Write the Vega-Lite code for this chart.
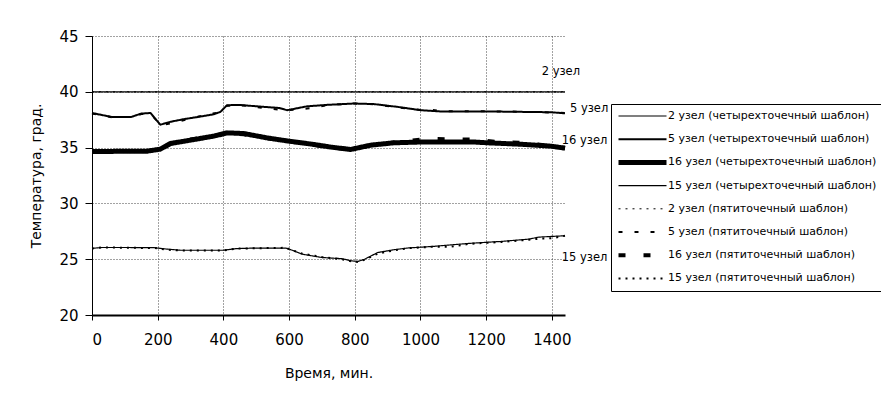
{
  "$schema": "https://vega.github.io/schema/vega-lite/v6.json",
  "width": 473,
  "height": 279,
  "autosize": {"type": "none"},
  "padding": {"left": 92, "top": 36, "right": 316, "bottom": 83},
  "background": "white",
  "config": {
    "font": "DejaVu Sans",
    "view": {"stroke": null},
    "axis": {
      "domainColor": "black",
      "tickColor": "black",
      "labelColor": "black",
      "titleColor": "black",
      "labelFontSize": 15,
      "titleFontSize": 14,
      "titleFontWeight": "normal",
      "gridColor": "#444444",
      "gridDash": [1, 2],
      "gridWidth": 1,
      "gridOpacity": 1
    },
    "legend": {
      "orient": "none",
      "legendX": 519,
      "legendY": 68,
      "strokeColor": "black",
      "fillColor": "white",
      "padding": 5,
      "symbolType": "stroke",
      "symbolSize": 2304,
      "symbolStrokeColor": "black",
      "clipHeight": 14,
      "rowPadding": 9.2,
      "labelFontSize": 11,
      "labelColor": "black",
      "labelOffset": -1,
      "labelLimit": 400,
      "symbolLimit": 0
    }
  },
  "datasets": {
    "series": [
      {"s": "2 узел (четырехточечный шаблон)", "t": 0, "T": 40},
      {"s": "2 узел (четырехточечный шаблон)", "t": 720, "T": 40},
      {"s": "2 узел (четырехточечный шаблон)", "t": 1440, "T": 40},

      {"s": "5 узел (четырехточечный шаблон)", "t": 0, "T": 38.1},
      {"s": "5 узел (четырехточечный шаблон)", "t": 30, "T": 37.92},
      {"s": "5 узел (четырехточечный шаблон)", "t": 60, "T": 37.75},
      {"s": "5 узел (четырехточечный шаблон)", "t": 120, "T": 37.75},
      {"s": "5 узел (четырехточечный шаблон)", "t": 150, "T": 38.05},
      {"s": "5 узел (четырехточечный шаблон)", "t": 178, "T": 38.1},
      {"s": "5 узел (четырехточечный шаблон)", "t": 208, "T": 37.05},
      {"s": "5 узел (четырехточечный шаблон)", "t": 240, "T": 37.32},
      {"s": "5 узел (четырехточечный шаблон)", "t": 280, "T": 37.55},
      {"s": "5 узел (четырехточечный шаблон)", "t": 330, "T": 37.78},
      {"s": "5 узел (четырехточечный шаблон)", "t": 370, "T": 37.98},
      {"s": "5 узел (четырехточечный шаблон)", "t": 391, "T": 38.2},
      {"s": "5 узел (четырехточечный шаблон)", "t": 411, "T": 38.8},
      {"s": "5 узел (четырехточечный шаблон)", "t": 450, "T": 38.82},
      {"s": "5 узел (четырехточечный шаблон)", "t": 523, "T": 38.65},
      {"s": "5 узел (четырехточечный шаблон)", "t": 570, "T": 38.55},
      {"s": "5 узел (четырехточечный шаблон)", "t": 594, "T": 38.35},
      {"s": "5 узел (четырехточечный шаблон)", "t": 655, "T": 38.7},
      {"s": "5 узел (четырехточечный шаблон)", "t": 716, "T": 38.83},
      {"s": "5 узел (четырехточечный шаблон)", "t": 797, "T": 38.95},
      {"s": "5 узел (четырехточечный шаблон)", "t": 858, "T": 38.9},
      {"s": "5 узел (четырехточечный шаблон)", "t": 930, "T": 38.65},
      {"s": "5 узел (четырехточечный шаблон)", "t": 1001, "T": 38.35},
      {"s": "5 узел (четырехточечный шаблон)", "t": 1062, "T": 38.24},
      {"s": "5 узел (четырехточечный шаблон)", "t": 1204, "T": 38.24},
      {"s": "5 узел (четырехточечный шаблон)", "t": 1397, "T": 38.17},
      {"s": "5 узел (четырехточечный шаблон)", "t": 1440, "T": 38.07},

      {"s": "16 узел (четырехточечный шаблон)", "t": 0, "T": 34.65},
      {"s": "16 узел (четырехточечный шаблон)", "t": 168, "T": 34.68},
      {"s": "16 узел (четырехточечный шаблон)", "t": 208, "T": 34.86},
      {"s": "16 узел (четырехточечный шаблон)", "t": 239, "T": 35.37},
      {"s": "16 узел (четырехточечный шаблон)", "t": 300, "T": 35.67},
      {"s": "16 узел (четырехточечный шаблон)", "t": 371, "T": 36.03},
      {"s": "16 узел (четырехточечный шаблон)", "t": 411, "T": 36.32},
      {"s": "16 узел (четырехточечный шаблон)", "t": 462, "T": 36.26},
      {"s": "16 узел (четырехточечный шаблон)", "t": 533, "T": 35.87},
      {"s": "16 узел (четырехточечный шаблон)", "t": 594, "T": 35.6},
      {"s": "16 узел (четырехточечный шаблон)", "t": 676, "T": 35.28},
      {"s": "16 узел (четырехточечный шаблон)", "t": 726, "T": 35.05},
      {"s": "16 узел (четырехточечный шаблон)", "t": 787, "T": 34.83},
      {"s": "16 узел (четырехточечный шаблон)", "t": 849, "T": 35.22},
      {"s": "16 узел (четырехточечный шаблон)", "t": 919, "T": 35.43},
      {"s": "16 узел (четырехточечный шаблон)", "t": 1001, "T": 35.5},
      {"s": "16 узел (четырехточечный шаблон)", "t": 1163, "T": 35.5},
      {"s": "16 узел (четырехточечный шаблон)", "t": 1204, "T": 35.43},
      {"s": "16 узел (четырехточечный шаблон)", "t": 1306, "T": 35.3},
      {"s": "16 узел (четырехточечный шаблон)", "t": 1397, "T": 35.13},
      {"s": "16 узел (четырехточечный шаблон)", "t": 1440, "T": 34.95},

      {"s": "15 узел (четырехточечный шаблон)", "t": 0, "T": 25.97},
      {"s": "15 узел (четырехточечный шаблон)", "t": 30, "T": 26.05},
      {"s": "15 узел (четырехточечный шаблон)", "t": 100, "T": 26.05},
      {"s": "15 узел (четырехточечный шаблон)", "t": 190, "T": 26.03},
      {"s": "15 узел (четырехточечный шаблон)", "t": 230, "T": 25.9},
      {"s": "15 узел (четырехточечный шаблон)", "t": 270, "T": 25.8},
      {"s": "15 узел (четырехточечный шаблон)", "t": 400, "T": 25.8},
      {"s": "15 узел (четырехточечный шаблон)", "t": 440, "T": 25.95},
      {"s": "15 узел (четырехточечный шаблон)", "t": 500, "T": 26.0},
      {"s": "15 узел (четырехточечный шаблон)", "t": 590, "T": 26.0},
      {"s": "15 узел (четырехточечный шаблон)", "t": 610, "T": 25.8},
      {"s": "15 узел (четырехточечный шаблон)", "t": 640, "T": 25.45},
      {"s": "15 узел (четырехточечный шаблон)", "t": 700, "T": 25.15},
      {"s": "15 узел (четырехточечный шаблон)", "t": 760, "T": 25.05},
      {"s": "15 узел (четырехточечный шаблон)", "t": 790, "T": 24.85},
      {"s": "15 узел (четырехточечный шаблон)", "t": 810, "T": 24.8},
      {"s": "15 узел (четырехточечный шаблон)", "t": 830, "T": 25.0},
      {"s": "15 узел (четырехточечный шаблон)", "t": 870, "T": 25.6},
      {"s": "15 узел (четырехточечный шаблон)", "t": 920, "T": 25.85},
      {"s": "15 узел (четырехточечный шаблон)", "t": 960, "T": 26.0},
      {"s": "15 узел (четырехточечный шаблон)", "t": 1040, "T": 26.15},
      {"s": "15 узел (четырехточечный шаблон)", "t": 1100, "T": 26.3},
      {"s": "15 узел (четырехточечный шаблон)", "t": 1150, "T": 26.42},
      {"s": "15 узел (четырехточечный шаблон)", "t": 1250, "T": 26.6},
      {"s": "15 узел (четырехточечный шаблон)", "t": 1330, "T": 26.8},
      {"s": "15 узел (четырехточечный шаблон)", "t": 1360, "T": 26.98},
      {"s": "15 узел (четырехточечный шаблон)", "t": 1440, "T": 27.1},

      {"s": "2 узел (пятиточечный шаблон)", "t": 0, "T": 40},
      {"s": "2 узел (пятиточечный шаблон)", "t": 720, "T": 40},
      {"s": "2 узел (пятиточечный шаблон)", "t": 1440, "T": 40},

      {"s": "5 узел (пятиточечный шаблон)", "t": 0, "T": 38.05},
      {"s": "5 узел (пятиточечный шаблон)", "t": 60, "T": 37.72},
      {"s": "5 узел (пятиточечный шаблон)", "t": 120, "T": 37.75},
      {"s": "5 узел (пятиточечный шаблон)", "t": 150, "T": 38.0},
      {"s": "5 узел (пятиточечный шаблон)", "t": 178, "T": 38.05},
      {"s": "5 узел (пятиточечный шаблон)", "t": 210, "T": 37.0},
      {"s": "5 узел (пятиточечный шаблон)", "t": 240, "T": 37.18},
      {"s": "5 узел (пятиточечный шаблон)", "t": 300, "T": 37.6},
      {"s": "5 узел (пятиточечный шаблон)", "t": 355, "T": 38.02},
      {"s": "5 узел (пятиточечный шаблон)", "t": 390, "T": 38.15},
      {"s": "5 узел (пятиточечный шаблон)", "t": 411, "T": 38.75},
      {"s": "5 узел (пятиточечный шаблон)", "t": 460, "T": 38.78},
      {"s": "5 узел (пятиточечный шаблон)", "t": 553, "T": 38.45},
      {"s": "5 узел (пятиточечный шаблон)", "t": 594, "T": 38.35},
      {"s": "5 узел (пятиточечный шаблон)", "t": 655, "T": 38.5},
      {"s": "5 узел (пятиточечный шаблон)", "t": 716, "T": 38.8},
      {"s": "5 узел (пятиточечный шаблон)", "t": 797, "T": 38.95},
      {"s": "5 узел (пятиточечный шаблон)", "t": 858, "T": 38.88},
      {"s": "5 узел (пятиточечный шаблон)", "t": 930, "T": 38.6},
      {"s": "5 узел (пятиточечный шаблон)", "t": 1001, "T": 38.38},
      {"s": "5 узел (пятиточечный шаблон)", "t": 1030, "T": 38.4},
      {"s": "5 узел (пятиточечный шаблон)", "t": 1062, "T": 38.27},
      {"s": "5 узел (пятиточечный шаблон)", "t": 1163, "T": 38.26},
      {"s": "5 узел (пятиточечный шаблон)", "t": 1300, "T": 38.22},
      {"s": "5 узел (пятиточечный шаблон)", "t": 1397, "T": 38.15},
      {"s": "5 узел (пятиточечный шаблон)", "t": 1440, "T": 38.1},

      {"s": "16 узел (пятиточечный шаблон)", "t": 0, "T": 34.68},
      {"s": "16 узел (пятиточечный шаблон)", "t": 168, "T": 34.7},
      {"s": "16 узел (пятиточечный шаблон)", "t": 208, "T": 34.9},
      {"s": "16 узел (пятиточечный шаблон)", "t": 250, "T": 35.5},
      {"s": "16 узел (пятиточечный шаблон)", "t": 300, "T": 35.72},
      {"s": "16 узел (пятиточечный шаблон)", "t": 371, "T": 36.05},
      {"s": "16 узел (пятиточечный шаблон)", "t": 411, "T": 36.3},
      {"s": "16 узел (пятиточечный шаблон)", "t": 462, "T": 36.2},
      {"s": "16 узел (пятиточечный шаблон)", "t": 533, "T": 35.85},
      {"s": "16 узел (пятиточечный шаблон)", "t": 594, "T": 35.58},
      {"s": "16 узел (пятиточечный шаблон)", "t": 676, "T": 35.25},
      {"s": "16 узел (пятиточечный шаблон)", "t": 726, "T": 35.0},
      {"s": "16 узел (пятиточечный шаблон)", "t": 787, "T": 34.85},
      {"s": "16 узел (пятиточечный шаблон)", "t": 849, "T": 35.2},
      {"s": "16 узел (пятиточечный шаблон)", "t": 919, "T": 35.45},
      {"s": "16 узел (пятиточечный шаблон)", "t": 1020, "T": 35.78},
      {"s": "16 узел (пятиточечный шаблон)", "t": 1083, "T": 35.75},
      {"s": "16 узел (пятиточечный шаблон)", "t": 1163, "T": 35.72},
      {"s": "16 узел (пятиточечный шаблон)", "t": 1230, "T": 35.5},
      {"s": "16 узел (пятиточечный шаблон)", "t": 1317, "T": 35.42},
      {"s": "16 узел (пятиточечный шаблон)", "t": 1397, "T": 35.15},
      {"s": "16 узел (пятиточечный шаблон)", "t": 1440, "T": 34.97},

      {"s": "15 узел (пятиточечный шаблон)", "t": 0, "T": 25.95},
      {"s": "15 узел (пятиточечный шаблон)", "t": 30, "T": 26.05},
      {"s": "15 узел (пятиточечный шаблон)", "t": 190, "T": 26.0},
      {"s": "15 узел (пятиточечный шаблон)", "t": 230, "T": 25.85},
      {"s": "15 узел (пятиточечный шаблон)", "t": 270, "T": 25.78},
      {"s": "15 узел (пятиточечный шаблон)", "t": 400, "T": 25.78},
      {"s": "15 узел (пятиточечный шаблон)", "t": 440, "T": 25.95},
      {"s": "15 узел (пятиточечный шаблон)", "t": 590, "T": 26.02},
      {"s": "15 узел (пятиточечный шаблон)", "t": 610, "T": 25.8},
      {"s": "15 узел (пятиточечный шаблон)", "t": 640, "T": 25.5},
      {"s": "15 узел (пятиточечный шаблон)", "t": 700, "T": 25.2},
      {"s": "15 узел (пятиточечный шаблон)", "t": 760, "T": 25.0},
      {"s": "15 узел (пятиточечный шаблон)", "t": 790, "T": 24.8},
      {"s": "15 узел (пятиточечный шаблон)", "t": 810, "T": 24.75},
      {"s": "15 узел (пятиточечный шаблон)", "t": 830, "T": 24.95},
      {"s": "15 узел (пятиточечный шаблон)", "t": 870, "T": 25.5},
      {"s": "15 узел (пятиточечный шаблон)", "t": 920, "T": 25.8},
      {"s": "15 узел (пятиточечный шаблон)", "t": 960, "T": 25.98},
      {"s": "15 узел (пятиточечный шаблон)", "t": 1040, "T": 26.12},
      {"s": "15 узел (пятиточечный шаблон)", "t": 1090, "T": 26.12},
      {"s": "15 узел (пятиточечный шаблон)", "t": 1150, "T": 26.38},
      {"s": "15 узел (пятиточечный шаблон)", "t": 1250, "T": 26.55},
      {"s": "15 узел (пятиточечный шаблон)", "t": 1330, "T": 26.75},
      {"s": "15 узел (пятиточечный шаблон)", "t": 1370, "T": 26.85},
      {"s": "15 узел (пятиточечный шаблон)", "t": 1400, "T": 26.88},
      {"s": "15 узел (пятиточечный шаблон)", "t": 1440, "T": 27.1}
    ],
    "labels": [
      {"label": "2 узел", "t": 1369, "T": 41.78},
      {"label": "5 узел", "t": 1455, "T": 38.5},
      {"label": "16 узел", "t": 1430, "T": 35.6},
      {"label": "15 узел", "t": 1430, "T": 25.1}
    ]
  },
  "layer": [
    {
      "data": {"name": "series"},
      "mark": {"type": "line", "color": "black", "strokeCap": "butt", "strokeJoin": "round"},
      "encoding": {
        "x": {
          "field": "t", "type": "quantitative",
          "scale": {"domain": [0, 1440], "nice": false, "zero": false},
          "axis": {
            "title": "Время, мин.",
            "values": [0, 200, 400, 600, 800, 1000, 1200, 1400],
            "format": "d",
            "domainWidth": 2,
            "tickSize": 5,
            "tickWidth": 1,
            "labelPadding": 12,
            "titlePadding": 19,
            "grid": true
          }
        },
        "y": {
          "field": "T", "type": "quantitative",
          "scale": {"domain": [20, 45], "nice": false, "zero": false},
          "axis": {
            "title": "Температура, град.",
            "values": [20, 25, 30, 35, 40, 45],
            "domainWidth": 1,
            "tickSize": 7,
            "tickWidth": 1,
            "labelPadding": 7,
            "titlePadding": 15,
            "grid": true
          }
        },
        "strokeDash": {
          "field": "s", "type": "ordinal",
          "scale": {
            "type": "ordinal",
            "domain": [
              "2 узел (четырехточечный шаблон)", "5 узел (четырехточечный шаблон)",
              "16 узел (четырехточечный шаблон)", "15 узел (четырехточечный шаблон)",
              "2 узел (пятиточечный шаблон)", "5 узел (пятиточечный шаблон)",
              "16 узел (пятиточечный шаблон)", "15 узел (пятиточечный шаблон)"
            ],
            "range": [[1, 0], [1, 0], [1, 0], [1, 0], [2, 5], [4, 12], [7, 18], [2, 5]]
          },
          "legend": {"title": null}
        },
        "strokeWidth": {
          "field": "s", "type": "ordinal",
          "scale": {
            "type": "ordinal",
            "domain": [
              "2 узел (четырехточечный шаблон)", "5 узел (четырехточечный шаблон)",
              "16 узел (четырехточечный шаблон)", "15 узел (четырехточечный шаблон)",
              "2 узел (пятиточечный шаблон)", "5 узел (пятиточечный шаблон)",
              "16 узел (пятиточечный шаблон)", "15 узел (пятиточечный шаблон)"
            ],
            "range": [1.2, 2, 5, 1.2, 1, 2, 4, 2]
          },
          "legend": {"title": null}
        }
      }
    },
    {
      "data": {"name": "labels"},
      "mark": {"type": "text", "align": "left", "baseline": "middle", "fontSize": 11.5, "color": "black"},
      "encoding": {
        "x": {"field": "t", "type": "quantitative"},
        "y": {"field": "T", "type": "quantitative"},
        "text": {"field": "label"}
      }
    }
  ]
}
